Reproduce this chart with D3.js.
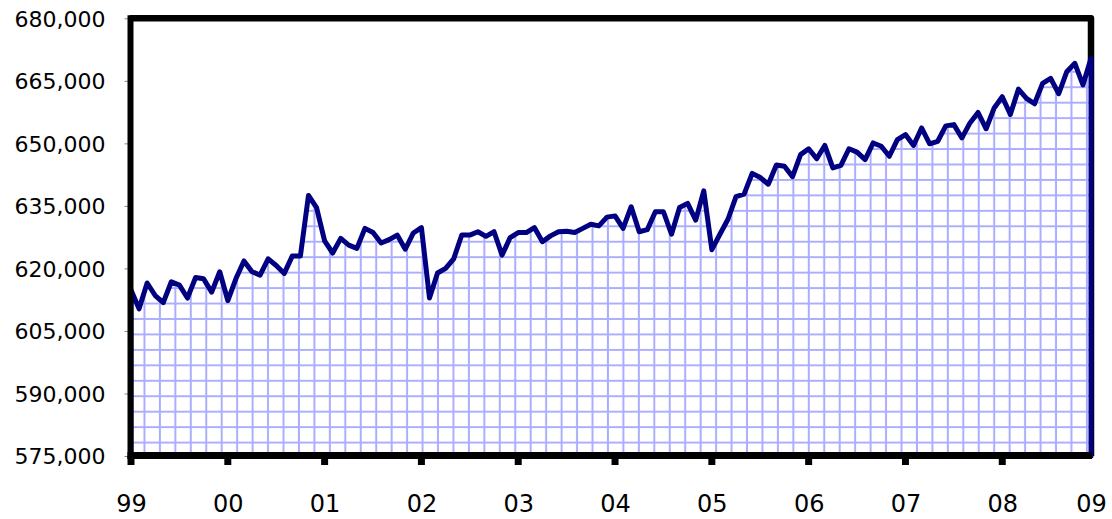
<!DOCTYPE html>
<html>
<head>
<meta charset="utf-8">
<script src="https://cdn.jsdelivr.net/npm/d3@7"></script>
<style>
  body { margin: 0; background: #fff; }
  svg { display: block; }
  .yaxis text { font-family: "DejaVu Sans", sans-serif; font-size: 22px; fill: #000; }
  .xaxis text { font-family: "DejaVu Sans", sans-serif; font-size: 24px; fill: #000; }
</style>
</head>
<body>
<div id="chart"></div>
<script>
// monthly values, Jan 1999 .. Dec 2008
var values = [
  614800, 610300, 616500, 613500, 611800, 616800, 616000, 612900, 617800, 617500, 614300, 619200,
  612300, 617500, 621800, 619200, 618400, 622300, 620700, 618800, 623000, 623000, 637500, 634600,
  626600, 623700, 627200, 625600, 624800, 629600, 628600, 626100, 626900, 628000, 624600, 628500,
  629800, 612900, 618900, 620000, 622300, 628000, 628000, 628800, 627700, 628800, 623200, 627400,
  628600, 628600, 629800, 626400, 627800, 628800, 628900, 628600, 629600, 630600, 630200, 632300,
  632600, 629600, 634800, 628800, 629300, 633600, 633600, 628200, 634600, 635600, 631600, 638600,
  624500, 628200, 631800, 637200, 637800, 642800, 641800, 640200, 644800, 644500, 642000, 647300,
  648700, 646300, 649500, 644100, 644700, 648700, 647900, 646100, 650100, 649300, 646900, 650900,
  652100, 649500, 653700, 649900, 650500, 654200, 654500, 651300, 654900, 657400, 653500, 658500,
  661200, 656900, 663000, 660800, 659500, 664400, 665600, 661900, 667200, 669200, 664000, 670400
];

var yTicks = [575000, 590000, 605000, 620000, 635000, 650000, 665000, 680000];
var yearLabels = ["99", "00", "01", "02", "03", "04", "05", "06", "07", "08", "09"];
var labelPos = [0, 12, 24, 36, 48, 60, 72, 84, 96, 108, 119];   // month index of each label
var tickPos = [0, 12, 24, 36, 48, 60, 72, 84, 96, 108];

var width = 1112, height = 519;
var plotL = 131, plotR = 1091, plotT = 18.3, plotB = 456;

var svg = d3.select('#chart').append('svg')
  .attr('width', width)
  .attr('height', height);

var x = d3.scaleLinear().domain([0, values.length - 1]).range([plotL, plotR]);
var y = d3.scaleLinear().domain([575000, 680000]).range([plotB, plotT]);

// grid hatch used as the area fill
var defs = svg.append('defs');
var step = 15.45;
var pat = defs.append('pattern')
  .attr('id', 'grid')
  .attr('patternUnits', 'userSpaceOnUse')
  .attr('x', plotL - 1)
  .attr('y', plotB + 3)
  .attr('width', step)
  .attr('height', step);
pat.append('rect').attr('width', step).attr('height', step).attr('fill', '#fff');
pat.append('path')
  .attr('d', `M${step - 1},0V${step}M0,${step - 1}H${step}`)
  .attr('stroke', '#adadff')
  .attr('stroke-width', 2)
  .attr('fill', 'none');

// top and right border of the plot
svg.append('path')
  .attr('d', `M${plotL - 1},${plotT} H${plotR} V${plotB}`)
  .attr('fill', 'none')
  .attr('stroke', '#000')
  .attr('stroke-width', 6.5)
  .attr('stroke-linejoin', 'round');

var area = d3.area()
  .x(function(d, i) { return x(i); })
  .y0(y(575000))
  .y1(function(d) { return y(d); });

svg.append('path')
  .datum(values)
  .attr('d', area)
  .attr('fill', 'url(#grid)')
  .attr('stroke', '#000080')
  .attr('stroke-width', 5)
  .attr('stroke-linejoin', 'round');

// y axis
var yAxis = svg.append('g')
  .attr('class', 'yaxis')
  .attr('transform', `translate(${plotL - 0.5},0)`)
  .call(d3.axisLeft(y).tickValues(yTicks).tickSize(6).tickPadding(19).tickFormat(d3.format(',')));
yAxis.select('.domain').remove();
yAxis.selectAll('.tick line').attr('stroke', '#888').attr('stroke-width', 1);
yAxis.selectAll('.tick text').attr('dy', '0.36em');

// x axis labels
var xAxis = svg.append('g')
  .attr('class', 'xaxis')
  .attr('transform', `translate(0,${plotB - 0.5})`)
  .call(d3.axisBottom(x).tickValues(labelPos).tickSize(0).tickPadding(39)
    .tickFormat(function(d, i) { return yearLabels[i]; }));
xAxis.select('.domain').remove();

// heavy tick marks under the bottom axis
svg.selectAll('.xtick')
  .data(tickPos)
  .enter().append('line')
  .attr('class', 'xtick')
  .attr('x1', function(d) { return x(d); })
  .attr('x2', function(d) { return x(d); })
  .attr('y1', plotB)
  .attr('y2', plotB + 9)
  .attr('stroke', '#000')
  .attr('stroke-width', 7);

// left and bottom axis lines
svg.append('line')
  .attr('x1', plotL - 0.5).attr('x2', plotL - 0.5)
  .attr('y1', plotT - 3).attr('y2', plotB + 3)
  .attr('stroke', '#000').attr('stroke-width', 6);
svg.append('line')
  .attr('x1', plotL - 3.5).attr('x2', plotR + 1)
  .attr('y1', plotB - 0.5).attr('y2', plotB - 0.5)
  .attr('stroke', '#000').attr('stroke-width', 7);
</script>
</body>
</html>
